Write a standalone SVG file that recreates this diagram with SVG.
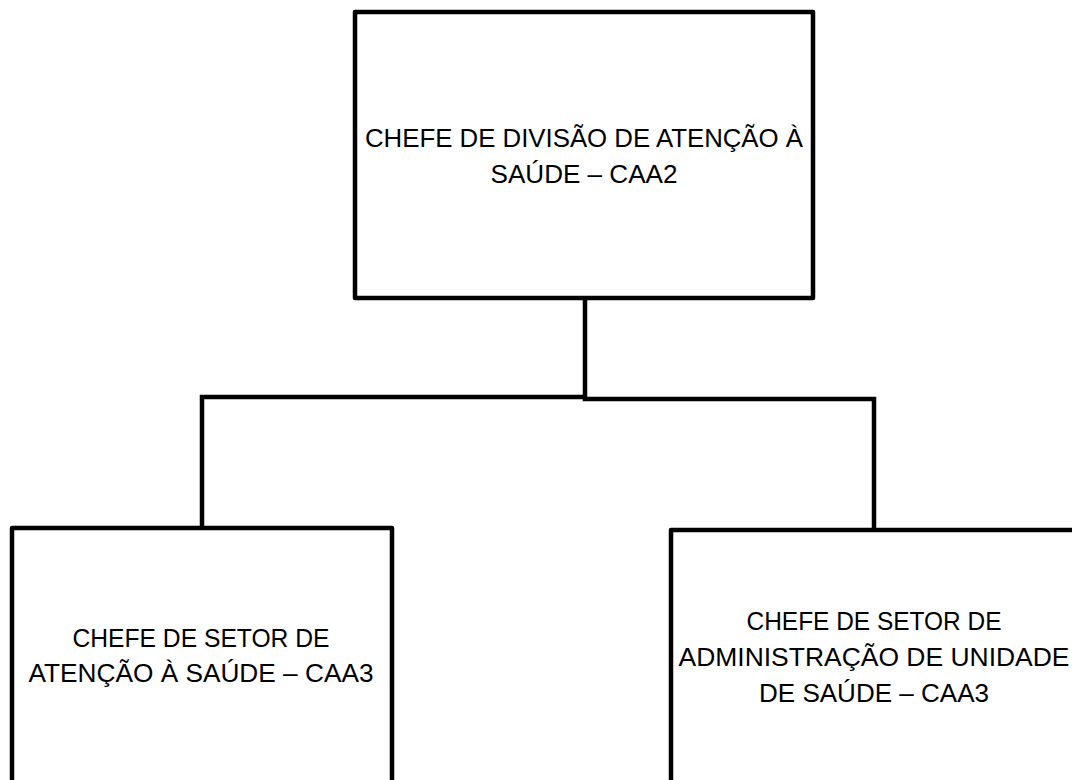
<svg xmlns="http://www.w3.org/2000/svg" width="1072" height="780" viewBox="0 0 1072 780">
<style>
.box{fill:#ffffff;stroke:#000000;stroke-width:4.5;stroke-linejoin:round}
.conn{fill:none;stroke:#000000;stroke-width:4.5;stroke-linecap:square}
.lbl{font-family:"Liberation Sans",Arial,sans-serif;font-size:26px;fill:#000000;text-anchor:middle}
</style>
<rect width="1072" height="780" fill="#ffffff"/>
<g id="connectors">
<path class="conn" d="M585 300 V397 M202 528 V397 H585 M585 399 H874 V528"/>
</g>
<g id="node-top">
<rect class="box" x="355" y="12" width="458" height="286"/>
<text class="lbl" x="584" y="147" textLength="438" lengthAdjust="spacingAndGlyphs">CHEFE DE DIVISÃO DE ATENÇÃO À</text>
<text class="lbl" x="584" y="183" textLength="187" lengthAdjust="spacingAndGlyphs">SAÚDE – CAA2</text>
</g>
<g id="node-left">
<rect class="box" x="12" y="528" width="380" height="270"/>
<text class="lbl" x="201" y="647" textLength="257" lengthAdjust="spacingAndGlyphs">CHEFE DE SETOR DE</text>
<text class="lbl" x="201" y="682" textLength="345" lengthAdjust="spacingAndGlyphs">ATENÇÃO À SAÚDE – CAA3</text>
</g>
<g id="node-right">
<rect class="box" x="671" y="530" width="420" height="270"/>
<text class="lbl" x="874" y="630" textLength="255" lengthAdjust="spacingAndGlyphs">CHEFE DE SETOR DE</text>
<text class="lbl" x="874" y="666" textLength="391" lengthAdjust="spacingAndGlyphs">ADMINISTRAÇÃO DE UNIDADE</text>
<text class="lbl" x="874" y="702" textLength="230" lengthAdjust="spacingAndGlyphs">DE SAÚDE – CAA3</text>
</g>
</svg>
